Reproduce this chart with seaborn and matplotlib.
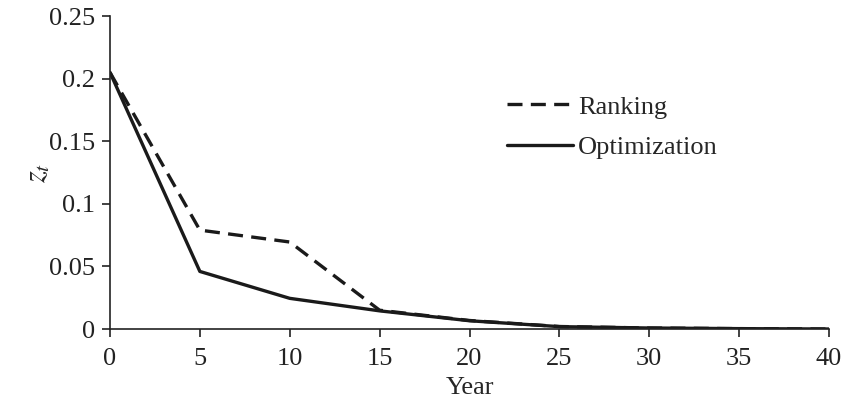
import pandas as pd
import seaborn as sns
import matplotlib.pyplot as plt

years = [0, 5, 10, 15, 20, 25, 30, 35, 40]
ranking = [0.205, 0.079, 0.0695, 0.015, 0.0068, 0.002, 0.0008, 0.0003, 0.0]
optimization = [0.205, 0.046, 0.0245, 0.0145, 0.0066, 0.0019, 0.0008, 0.0003, 0.0]

df = pd.DataFrame({'Year': years * 2,
                   'z': ranking + optimization,
                   'method': ['Ranking'] * len(years) + ['Optimization'] * len(years)})

sns.set_style('ticks')
plt.rcParams['font.family'] = ['Liberation Serif', 'DejaVu Serif']
plt.rcParams['mathtext.fontset'] = 'stix'

fig = plt.figure(figsize=(8.44, 4.08), dpi=100)
ax = fig.add_axes([0.1303, 0.1936, 0.852, 0.767])
sns.lineplot(data=df, x='Year', y='z', style='method', color='#1a1a1a',
             dashes={'Ranking': (4.5, 2.5), 'Optimization': ''}, linewidth=2.4, ax=ax)

ax.set_xlim(0, 40)
ax.set_ylim(0, 0.25)
ax.set_xticks(range(0, 41, 5))
ax.set_yticks([0, 0.05, 0.1, 0.15, 0.2, 0.25])
ax.set_yticklabels(['0', '0.05', '0.1', '0.15', '0.2', '0.25'])
ax.tick_params(labelsize=19, length=6, width=1.2, colors='#222222', pad=5)
ax.tick_params(axis='x', pad=8)
ax.set_xlabel('Year', fontsize=19, labelpad=5)
ax.set_ylabel('$z_t$', fontsize=22, labelpad=-3)
for s in ['top', 'right']:
    ax.spines[s].set_visible(False)
for s in ['left', 'bottom']:
    ax.spines[s].set_linewidth(1.2)
    ax.spines[s].set_color('#222222')

leg = ax.legend(loc='center left', bbox_to_anchor=(0.519, 0.645), frameon=False,
                fontsize=19, handlelength=2.5, handletextpad=0.2, labelspacing=0.65)
plt.savefig('out.png', dpi=100)
